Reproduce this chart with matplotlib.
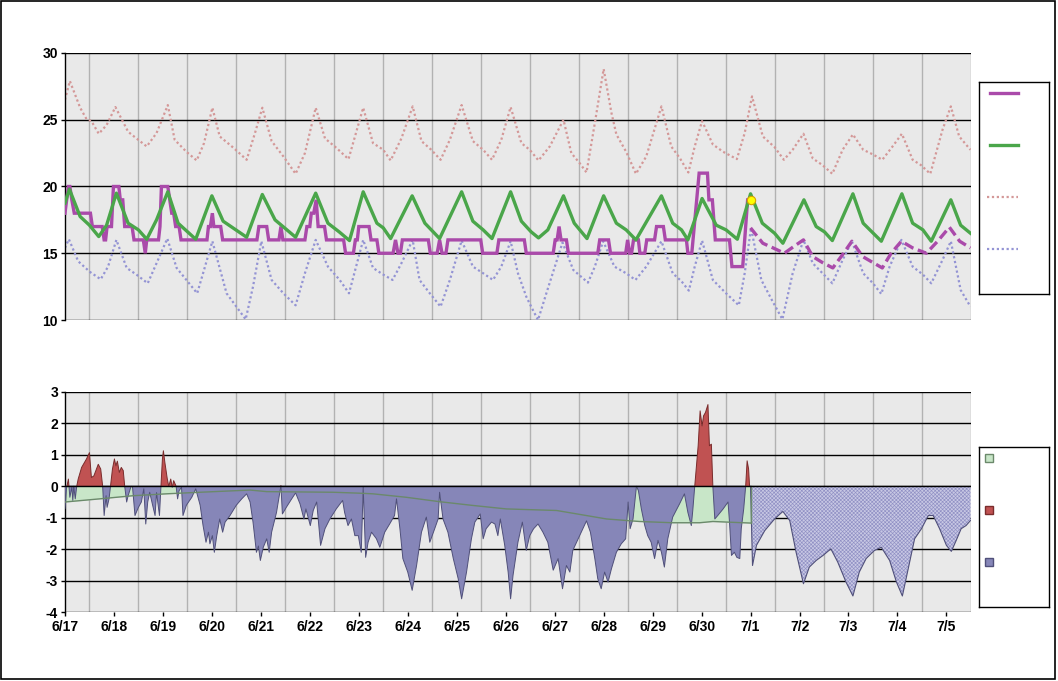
import numpy as np
import matplotlib
matplotlib.use("Agg")
import matplotlib.pyplot as plt
from matplotlib.patches import Rectangle

plt.rcParams['font.family'] = ['Liberation Sans', 'DejaVu Sans']
plt.rcParams['font.weight'] = 'bold'
plt.rcParams['axes.unicode_minus'] = False
plt.rcParams['hatch.linewidth'] = 0.45

# --- data (x = days since 6/17 00:00) ---
day_labels = ['6/17', '6/18', '6/19', '6/20', '6/21', '6/22', '6/23', '6/24', '6/25', '6/26',
              '6/27', '6/28', '6/29', '6/30', '7/1', '7/2', '7/3', '7/4', '7/5']

# upper reference (pink dotted)
hi_ref = [(0, 26.5), (0.1, 27.9), (0.31, 25.9), (0.44, 25.05), (0.54, 24.9), (0.69, 23.95), (0.85, 24.6),
          (1.03, 25.95), (1.29, 24.1), (1.46, 23.6), (1.67, 23.0), (1.87, 24.0), (2.1, 26.1), (2.24, 23.5),
          (2.48, 22.6), (2.69, 21.95), (2.84, 23.25), (3.01, 25.9), (3.16, 23.75), (3.44, 22.9), (3.71, 22.0),
          (3.88, 24.0), (4.03, 25.9), (4.22, 23.4), (4.46, 22.25), (4.71, 20.95), (4.9, 22.5), (5.12, 25.9),
          (5.31, 23.6), (5.54, 22.9), (5.79, 22.05), (6.09, 25.9), (6.29, 23.25), (6.5, 22.75), (6.65, 21.95),
          (6.87, 23.6), (7.1, 26.0), (7.28, 23.4), (7.48, 22.75), (7.67, 22.0), (7.86, 23.5), (8.1, 26.1),
          (8.33, 23.4), (8.54, 22.75), (8.72, 22.0), (8.91, 23.5), (9.1, 25.95), (9.32, 23.25), (9.49, 22.75),
          (9.67, 21.95), (9.9, 23.0), (10.18, 25.0), (10.34, 22.5), (10.51, 21.75), (10.65, 21.05),
          (10.82, 24.75), (11.0, 28.8), (11.16, 25.5), (11.26, 23.9), (11.46, 22.6), (11.66, 20.95),
          (11.87, 22.25), (12.18, 26.0), (12.38, 23.0), (12.56, 22.1), (12.73, 21.05), (12.86, 23.0),
          (13.01, 24.9), (13.23, 23.15), (13.44, 22.6), (13.72, 22.05), (13.88, 24.0), (14.03, 26.75),
          (14.25, 23.75), (14.49, 22.95), (14.68, 22.0), (14.86, 22.75), (15.08, 23.95), (15.27, 22.1),
          (15.47, 21.6), (15.67, 20.95), (15.88, 22.75), (16.09, 23.9), (16.3, 22.75), (16.5, 22.4),
          (16.69, 22.0), (16.9, 23.0), (17.09, 23.95), (17.31, 22.0), (17.48, 21.6), (17.67, 20.95),
          (17.92, 24.25), (18.09, 26.0), (18.26, 23.75), (18.49, 22.75)]

# lower reference (blue dotted)
lo_ref = [(0, 15.4), (0.08, 16.05), (0.27, 14.4), (0.51, 13.6), (0.73, 13.05), (0.88, 14.0), (1.05, 16.0),
          (1.26, 13.9), (1.46, 13.4), (1.69, 12.75), (1.87, 14.25), (2.09, 16.1), (2.28, 13.9), (2.48, 13.0),
          (2.7, 12.0), (2.82, 13.5), (3.01, 15.9), (3.3, 12.0), (3.5, 11.0), (3.69, 10.05), (3.84, 12.5),
          (4.01, 15.9), (4.22, 13.0), (4.46, 12.0), (4.71, 11.1), (4.9, 13.5), (5.12, 16.0), (5.37, 14.0),
          (5.61, 13.0), (5.8, 12.0), (6.09, 16.0), (6.29, 13.9), (6.5, 13.4), (6.69, 13.0), (6.87, 14.25),
          (7.1, 16.0), (7.24, 13.0), (7.45, 12.0), (7.67, 11.0), (7.86, 13.0), (8.1, 15.95), (8.33, 14.0),
          (8.54, 13.5), (8.74, 13.0), (8.91, 14.0), (9.1, 15.9), (9.25, 13.5), (9.42, 11.75), (9.52, 11.0),
          (9.66, 10.0), (9.83, 12.0), (10.16, 15.8), (10.38, 13.75), (10.68, 12.8), (10.82, 14.0),
          (10.99, 15.9), (11.22, 14.0), (11.46, 13.5), (11.65, 13.0), (11.87, 14.0), (12.18, 15.9),
          (12.41, 13.5), (12.59, 12.9), (12.74, 12.2), (12.86, 14.0), (13.01, 15.95), (13.23, 13.0),
          (13.5, 12.0), (13.76, 11.1), (13.88, 13.5), (14.01, 16.9), (14.22, 13.0), (14.42, 11.6),
          (14.65, 10.05), (14.86, 13.5), (15.08, 16.0), (15.27, 14.25), (15.47, 13.5), (15.67, 12.75),
          (15.88, 14.5), (16.07, 15.9), (16.3, 13.5), (16.5, 12.75), (16.67, 11.95), (16.84, 14.0),
          (17.08, 16.0), (17.31, 14.0), (17.52, 13.4), (17.69, 12.75), (17.92, 14.5), (18.09, 15.9),
          (18.29, 12.25), (18.49, 11.0)]

# normal (green)
normal = [(0, 18.75), (0.09, 19.8), (0.31, 17.75), (0.5, 17.1), (0.69, 16.25), (0.85, 17.1), (1.05, 19.5),
          (1.29, 17.25), (1.5, 16.75), (1.67, 16.05), (1.87, 17.5), (2.1, 19.6), (2.31, 17.25), (2.67, 16.05),
          (3.0, 19.3), (3.23, 17.4), (3.71, 16.2), (4.03, 19.4), (4.29, 17.5), (4.71, 16.2), (5.12, 19.5),
          (5.37, 17.25), (5.6, 16.6), (5.81, 15.95), (6.09, 19.6), (6.37, 17.25), (6.5, 16.9), (6.65, 16.1),
          (7.09, 19.3), (7.35, 17.25), (7.52, 16.6), (7.65, 16.1), (8.1, 19.6), (8.33, 17.4), (8.54, 16.75),
          (8.72, 16.1), (9.1, 19.6), (9.32, 17.4), (9.52, 16.6), (9.67, 16.15), (9.86, 16.75), (10.18, 19.3),
          (10.4, 17.25), (10.66, 16.1), (11.0, 19.3), (11.26, 17.25), (11.46, 16.75), (11.66, 16.0),
          (12.18, 19.3), (12.41, 17.25), (12.59, 16.75), (12.72, 16.0), (13.01, 19.1), (13.3, 17.1),
          (13.5, 16.75), (13.73, 16.05), (14.0, 19.45), (14.24, 17.25), (14.49, 16.5), (14.66, 15.75),
          (15.09, 19.0), (15.34, 17.0), (15.51, 16.6), (15.67, 15.95), (16.09, 19.45), (16.3, 17.25),
          (16.67, 15.9), (17.09, 19.45), (17.31, 17.25), (17.52, 16.75), (17.69, 15.9), (18.09, 19.0),
          (18.29, 17.1), (18.49, 16.5)]

# observed (purple solid)
observed = [(0.0, 18), (0.07, 20), (0.1, 20), (0.14, 19), (0.19, 18), (0.52, 18), (0.56, 17), (0.76, 17),
            (0.8, 16), (0.83, 16), (0.86, 17), (0.95, 17), (0.99, 20), (1.1, 20), (1.13, 19), (1.18, 19),
            (1.22, 17), (1.37, 17), (1.41, 16), (1.6, 16), (1.64, 15), (1.67, 16), (1.91, 16), (1.94, 17),
            (1.97, 20), (2.1, 20), (2.14, 19), (2.18, 18), (2.22, 18), (2.26, 17), (2.33, 17), (2.37, 16),
            (2.9, 16), (2.93, 17), (2.97, 17), (3.01, 18), (3.04, 17), (3.18, 17), (3.22, 16), (3.92, 16),
            (3.96, 17), (4.12, 17), (4.16, 16), (4.37, 16), (4.41, 17), (4.45, 16), (4.9, 16), (4.94, 17),
            (5.0, 17), (5.03, 18), (5.08, 18), (5.13, 19), (5.17, 17), (5.3, 17), (5.34, 16), (5.69, 16),
            (5.73, 15), (5.89, 15), (5.93, 16), (5.97, 16), (6.0, 17), (6.21, 17), (6.25, 16), (6.37, 16),
            (6.41, 15), (6.7, 15), (6.75, 16), (6.8, 15), (6.85, 15), (6.89, 16), (7.42, 16), (7.46, 15),
            (7.6, 15), (7.65, 16), (7.7, 15), (7.78, 15), (7.82, 16), (8.49, 16), (8.53, 15), (8.82, 15),
            (8.86, 16), (9.38, 16), (9.42, 15), (9.97, 15), (10.01, 16), (10.05, 16), (10.09, 17),
            (10.13, 16), (10.24, 16), (10.28, 15), (10.88, 15), (10.92, 16), (11.1, 16), (11.14, 15),
            (11.45, 15), (11.49, 16), (11.53, 15), (11.57, 15), (11.61, 16), (11.71, 16), (11.74, 15),
            (11.84, 15), (11.88, 16), (12.04, 16), (12.08, 17), (12.22, 17), (12.26, 16), (12.69, 16),
            (12.72, 15), (12.8, 15), (12.95, 21), (13.12, 21), (13.15, 19), (13.22, 19), (13.28, 16),
            (13.57, 16), (13.62, 14), (13.84, 14), (13.94, 19), (14.0, 19)]

last_obs = (14.0, 19)

# forecast (purple dashed)
forecast = [(14.0, 16.9), (14.25, 15.75), (14.46, 15.4), (14.69, 15.0), (14.9, 15.55), (15.08, 16.0),
            (15.27, 14.75), (15.47, 14.3), (15.68, 13.9), (15.88, 14.9), (16.07, 15.9), (16.29, 14.75),
            (16.5, 14.3), (16.69, 13.9), (16.87, 15.0), (17.08, 15.9), (17.31, 15.4), (17.59, 15.0),
            (17.82, 15.9), (18.06, 16.95), (18.27, 15.9), (18.49, 15.4)]

# deviation, observed period
dev_obs = [(0, -0.72), (0.03, -0.08), (0.07, 0.23), (0.1, -0.35), (0.14, -0.03), (0.16, -0.45), (0.18, 0),
           (0.21, -0.4), (0.24, 0), (0.27, 0.23), (0.34, 0.6), (0.44, 0.87), (0.5, 1.07), (0.54, 0.28),
           (0.59, 0.33), (0.68, 0.7), (0.73, 0.55), (0.77, 0), (0.8, -0.93), (0.84, -0.3), (0.86, -0.67),
           (0.9, -0.4), (0.93, 0), (0.97, 0.55), (1.01, 0.87), (1.04, 0.65), (1.07, 0.8), (1.11, 0.44),
           (1.15, 0.6), (1.19, 0.5), (1.22, 0), (1.26, -0.5), (1.29, -0.3), (1.35, 0), (1.38, -0.03),
           (1.43, -0.93), (1.5, -0.67), (1.56, -0.5), (1.61, -0.08), (1.65, -1.2), (1.69, -0.5),
           (1.73, -0.19), (1.79, -0.6), (1.84, -0.93), (1.87, -0.2), (1.93, -0.93), (1.96, 0), (1.99, 0.87),
           (2.01, 1.13), (2.04, 0.76), (2.09, 0.23), (2.12, 0), (2.16, 0.23), (2.19, -0.03), (2.22, 0.18),
           (2.27, 0), (2.3, -0.4), (2.33, -0.14), (2.38, -0.03), (2.41, -0.93), (2.48, -0.6), (2.59, -0.35),
           (2.67, -0.08), (2.76, -0.6), (2.82, -1.25), (2.88, -1.78), (2.93, -1.46), (2.96, -1.83),
           (3.01, -1.57), (3.05, -2.1), (3.1, -1.57), (3.16, -1.04), (3.22, -1.46), (3.27, -1.14),
           (3.37, -0.93), (3.5, -0.6), (3.61, -0.4), (3.71, -0.24), (3.78, -0.5), (3.84, -1.14), (3.91, -2.1),
           (3.95, -1.9), (3.99, -2.36), (4.05, -1.94), (4.12, -1.67), (4.17, -2.1), (4.22, -1.46),
           (4.32, -0.83), (4.41, 0.02), (4.44, -0.88), (4.52, -0.67), (4.63, -0.4), (4.71, -0.21),
           (4.8, -0.56), (4.88, -1.04), (4.92, -0.72), (5.01, -1.25), (5.07, -0.77), (5.14, -0.5),
           (5.22, -1.88), (5.31, -1.35), (5.41, -1.04), (5.54, -0.72), (5.67, -0.45), (5.71, -0.83),
           (5.78, -1.25), (5.85, -1.04), (5.92, -1.57), (5.99, -1.57), (6.05, -2.1), (6.09, -0.03),
           (6.14, -2.26), (6.19, -1.78), (6.26, -1.46), (6.36, -1.67), (6.43, -1.94), (6.53, -1.46),
           (6.63, -1.2), (6.73, -0.93), (6.77, -0.4), (6.84, -1.35), (6.9, -2.3), (7.0, -2.73), (7.09, -3.31),
           (7.18, -2.52), (7.28, -1.46), (7.38, -0.98), (7.45, -1.78), (7.55, -1.35), (7.62, -1.04),
           (7.65, -0.19), (7.72, -1.04), (7.82, -1.46), (7.93, -2.3), (8.03, -2.94), (8.1, -3.58),
           (8.2, -2.73), (8.3, -1.67), (8.37, -1.14), (8.48, -0.88), (8.54, -1.67), (8.6, -1.35),
           (8.71, -1.14), (8.78, -1.2), (8.84, -1.57), (8.89, -1.04), (8.98, -1.88), (9.05, -2.73),
           (9.1, -3.58), (9.15, -2.83), (9.25, -1.78), (9.34, -1.14), (9.42, -2.04), (9.49, -1.57),
           (9.57, -1.35), (9.66, -1.2), (9.76, -1.46), (9.86, -1.78), (9.97, -2.67), (10.07, -2.3),
           (10.16, -3.26), (10.24, -2.52), (10.31, -2.73), (10.37, -2.04), (10.51, -1.57), (10.65, -1.1),
           (10.73, -1.46), (10.82, -2.3), (10.88, -2.94), (10.95, -3.26), (11.02, -2.73), (11.09, -3.05),
           (11.16, -2.62), (11.26, -2.1), (11.36, -1.83), (11.45, -1.67), (11.5, -0.5), (11.54, -1.35),
           (11.6, -1.04), (11.67, 0), (11.71, -0.14), (11.77, -0.72), (11.84, -1.25), (11.9, -1.57),
           (11.97, -1.78), (12.04, -2.3), (12.11, -1.72), (12.18, -2.1), (12.24, -2.57), (12.31, -1.67),
           (12.41, -0.98), (12.55, -0.56), (12.65, -0.24), (12.72, -0.83), (12.79, -1.25), (12.82, -0.77),
           (12.86, 0), (12.93, 1.29), (12.97, 2.4), (13.01, 1.92), (13.04, 2.24), (13.08, 2.35),
           (13.13, 2.6), (13.16, 1.29), (13.2, 1.34), (13.23, 0), (13.27, -1.04), (13.33, -0.93),
           (13.44, -0.72), (13.54, -0.5), (13.57, -1.14), (13.61, -2.2), (13.67, -2.1), (13.72, -2.26),
           (13.78, -2.3), (13.81, -1.35), (13.86, -0.72), (13.9, 0), (13.93, 0.81), (13.96, 0.55),
           (13.98, 0), (14.0, -0.4)]

# deviation, forecast period (hatched)
dev_fc = [(14.0, 0), (14.04, -2.52), (14.12, -1.88), (14.29, -1.41), (14.49, -1.04), (14.66, -0.8),
          (14.8, -1.09), (14.93, -2.1), (15.08, -3.1), (15.2, -2.57), (15.34, -2.36), (15.48, -2.2),
          (15.64, -1.99), (15.78, -2.41), (15.95, -3.05), (16.09, -3.49), (16.22, -2.73), (16.36, -2.3),
          (16.53, -2.04), (16.67, -1.94), (16.84, -2.36), (16.98, -3.05), (17.1, -3.49), (17.22, -2.62),
          (17.35, -1.67), (17.49, -1.35), (17.63, -0.93), (17.73, -0.93), (17.86, -1.35), (18.0, -1.88),
          (18.1, -2.07), (18.2, -1.72), (18.3, -1.35), (18.4, -1.25), (18.49, -1.09)]

# running mean deviation (green area)
dev_mean = [(0, -0.5), (0.71, -0.4), (1.39, -0.3), (2.07, -0.24), (2.76, -0.19), (3.78, -0.12),
            (4.12, -0.17), (5.48, -0.19), (6.02, -0.22), (6.29, -0.24), (6.97, -0.35), (7.65, -0.49),
            (8.33, -0.61), (9.01, -0.72), (10.04, -0.77), (11.06, -1.04), (11.73, -1.12), (12.41, -1.16),
            (12.96, -1.16), (13.23, -1.12), (14.0, -1.17)]


def xy(pairs):
    a = np.array(pairs, dtype=float)
    return a[:, 0], a[:, 1]


PURPLE = '#aa4aaa'
GREEN = '#4aa64a'
PINK = '#d49898'
LBLUE = '#9494d4'
BAR_BLUE = '#8686b8'
BAR_RED = '#c05252'

fig = plt.figure(figsize=(10.58, 6.81), dpi=100)
ax1 = fig.add_axes([0.0614, 0.5301, 0.8563, 0.3921])
ax2 = fig.add_axes([0.0614, 0.1013, 0.8563, 0.3231])


def base_style(ax, ylo, yhi, step):
    ax.set_facecolor('#e9e9e9')
    ax.set_xlim(0, 18.5)
    ax.set_ylim(ylo, yhi)
    for x in np.arange(0.5, 18.6, 1.0):
        ax.axvline(x, color='#b2b2b2', lw=1, zorder=1)
    for y in np.arange(ylo, yhi + step / 2, step):
        ax.axhline(y, color='black', lw=1, zorder=1.5)
    for s in ['top', 'right', 'bottom']:
        ax.spines[s].set_visible(False)
    ax.spines['left'].set_color('black')
    ax.spines['left'].set_linewidth(1)
    ax.set_yticks(np.arange(ylo, yhi + step / 2, step))
    ax.tick_params(axis='y', direction='out', length=3, width=1, labelsize=10, pad=2, colors='black')


# --- top panel ---
base_style(ax1, 10, 30, 5)
ax1.set_xticks([])
ax1.plot(*xy(hi_ref), color=PINK, lw=1.6, ls=(0, (1, 1.2)), zorder=2)
ax1.plot(*xy(lo_ref), color=LBLUE, lw=1.6, ls=(0, (1, 1.2)), zorder=2)
ax1.plot(*xy(observed), color=PURPLE, lw=2.4, zorder=3, solid_joinstyle='miter')
ax1.plot(*xy(forecast), color=PURPLE, lw=2.4, ls=(0, (3, 1.4)), zorder=3)
ax1.plot(*xy(normal), color=GREEN, lw=2.4, zorder=4)
ax1.plot(*last_obs, 'o', ms=6, mfc='#ffff00', mec='#d8a000', mew=0.8, zorder=6)

# --- bottom panel ---
base_style(ax2, -4, 3, 1)
t, v = xy(dev_obs)
tm, vm = xy(dev_mean)
tf, vf = xy(dev_fc)
ax2.fill_between(tm, 0, vm, color='#c8e6c8', lw=0, zorder=2)
ax2.fill_between(t, 0, v, where=v > 0, interpolate=True, facecolor=BAR_RED,
                 edgecolor='#7a2c2c', lw=0.7, zorder=3)
ax2.fill_between(t, 0, v, where=v < 0, interpolate=True, facecolor=BAR_BLUE,
                 edgecolor='#50507a', lw=0.7, zorder=3)
ax2.fill_between(tf, 0, vf, facecolor='#c8c8e4', hatch='xxxxxxxxx', edgecolor='#9090c4', lw=0, zorder=3)
ax2.plot(tf, vf, color='#50507a', lw=0.8, zorder=3.5)
ax2.plot(tm, vm, color='#6b896b', lw=1, zorder=4)
ax2.plot([tm[-1], tm[-1]], [0, vm[-1]], color='#6b896b', lw=1, zorder=4)
ax2.axhline(0, color='black', lw=1, zorder=5)
ax2.set_xticks(np.arange(len(day_labels)))
ax2.set_xticklabels(day_labels)
ax2.tick_params(axis='x', direction='out', length=3, width=1, labelsize=10, pad=3, colors='black')

# --- legend boxes (no text) ---
def legend_box(rect):
    lax = fig.add_axes(rect)
    lax.set_xlim(0, 1)
    lax.set_ylim(0, 1)
    lax.set_xticks([])
    lax.set_yticks([])
    for s in lax.spines.values():
        s.set_color('black')
        s.set_linewidth(1)
    return lax

lg1 = legend_box([0.9253, 0.5683, 0.0662, 0.3113])
lg1.plot([0.16, 0.56], [0.948, 0.948], color=PURPLE, lw=2.4)
lg1.plot([0.16, 0.56], [0.703, 0.703], color=GREEN, lw=2.4)
lg1.plot([0.12, 0.56], [0.458, 0.458], color=PINK, lw=1.6, ls=(0, (1, 1.2)))
lg1.plot([0.12, 0.56], [0.212, 0.212], color=LBLUE, lw=1.6, ls=(0, (1, 1.2)))

lg2 = legend_box([0.9253, 0.1087, 0.0662, 0.2349])
for yy, fc, ec in [(0.931, '#c8e6c8', '#6b896b'), (0.606, BAR_RED, '#7a2c2c'), (0.281, BAR_BLUE, '#50507a')]:
    lg2.plot(0.143, yy, 's', ms=5.5, mfc=fc, mec=ec, mew=1)

# outer frame
fig.patches.append(Rectangle((0.001, 0.003), 0.996, 0.995, transform=fig.transFigure,
                             fill=False, edgecolor='black', lw=1.2))

fig.savefig('out.png', dpi=100)
